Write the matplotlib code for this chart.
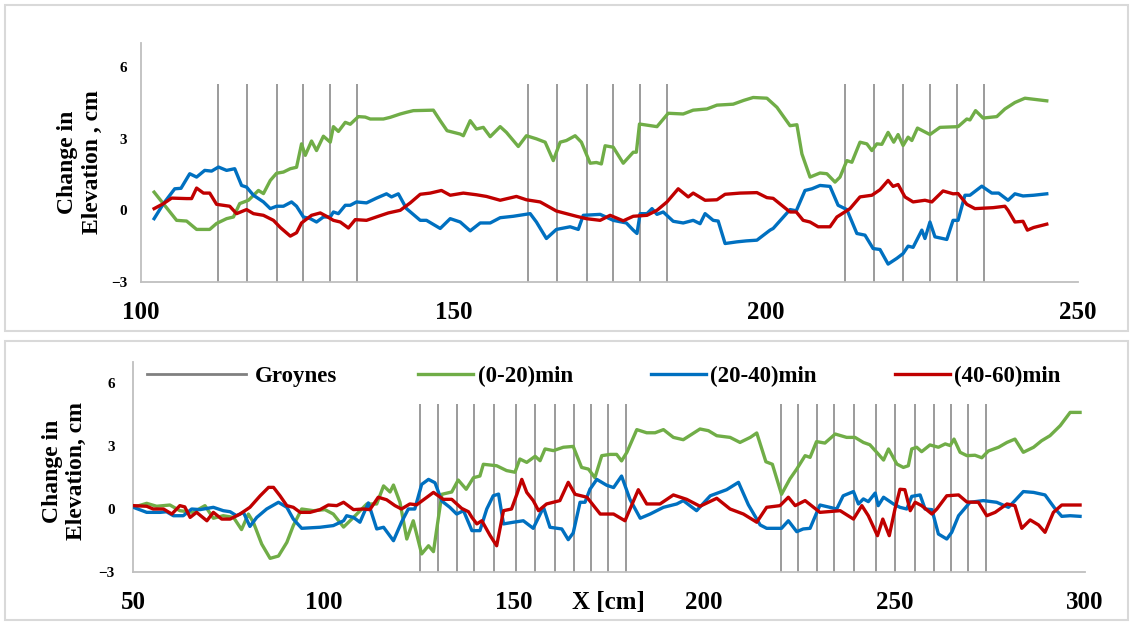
import matplotlib
matplotlib.use("Agg")
import matplotlib.pyplot as plt
from matplotlib.patches import Rectangle
from matplotlib.lines import Line2D

plt.rcParams['font.family'] = ['Liberation Serif', 'DejaVu Serif']
plt.rcParams['font.weight'] = 'bold'

GREEN = '#70AD47'
BLUE = '#0070C0'
RED = '#C00000'
GREY = '#808080'

# ---- top panel data (x [cm], change in elevation [cm]) ----
top_green = [(102.1, 0.76), (105.7, -0.42), (107.3, -0.45), (108.9, -0.8), (111.0, -0.8), (112.1, -0.55),
             (113.7, -0.35), (114.8, -0.28), (115.8, 0.28), (117.2, 0.42), (118.8, 0.83), (119.6, 0.7),
             (120.7, 1.25), (121.7, 1.55), (122.8, 1.6), (123.9, 1.74), (124.9, 1.8), (125.7, 2.78),
             (126.3, 2.3), (127.3, 2.9), (128.1, 2.5), (129.2, 3.1), (130.3, 2.85), (130.8, 3.5),
             (131.6, 3.3), (132.7, 3.68), (133.5, 3.6), (134.8, 3.92), (135.9, 3.9), (136.7, 3.82),
             (138.8, 3.82), (139.9, 3.89), (141.5, 4.03), (142.5, 4.1), (143.6, 4.17), (146.8, 4.19),
             (147.9, 3.75), (149.0, 3.33), (151.1, 3.19), (151.6, 3.12), (152.7, 3.75), (153.7, 3.4),
             (154.8, 3.47), (155.9, 3.08), (157.5, 3.5), (158.5, 3.26), (160.4, 2.67), (161.7, 3.12),
             (163.3, 2.99), (164.7, 2.85), (166.0, 2.08), (167.1, 2.85), (168.1, 2.92), (169.5, 3.12),
             (170.5, 2.85), (171.9, 1.97), (172.9, 2.0), (173.7, 1.94), (174.3, 2.7), (175.6, 2.64),
             (177.2, 1.97), (178.8, 2.43), (179.3, 2.43), (179.8, 3.61), (182.6, 3.5), (184.4, 4.06),
             (186.8, 4.03), (188.4, 4.19), (190.6, 4.24), (192.2, 4.4), (194.8, 4.44), (196.5, 4.6),
             (198.0, 4.72), (200.2, 4.69), (201.8, 4.31), (203.9, 3.54), (205.0, 3.58), (205.8, 2.36),
             (207.1, 1.39), (208.7, 1.56), (209.8, 1.53), (211.1, 1.18), (211.9, 1.39), (213.0, 2.08),
             (213.8, 2.01), (215.1, 2.85), (216.2, 2.78), (217.0, 2.5), (217.8, 2.78), (218.6, 2.76),
             (219.6, 3.26), (220.5, 2.85), (221.2, 3.17), (222.0, 2.71), (222.8, 3.06), (223.4, 2.92),
             (224.3, 3.44), (226.3, 3.17), (227.9, 3.47), (230.8, 3.5), (232.2, 3.82), (232.7, 3.78),
             (233.6, 4.17), (234.8, 3.86), (237.0, 3.92), (238.3, 4.24), (239.9, 4.51), (241.5, 4.69),
             (245.0, 4.58)]

top_blue = [(102.1, -0.35), (103.6, 0.28), (105.4, 0.9), (106.4, 0.92), (107.8, 1.53), (108.9, 1.39),
            (110.2, 1.67), (111.3, 1.64), (112.4, 1.81), (113.7, 1.67), (115.0, 1.74), (116.1, 1.04),
            (116.9, 0.97), (118.0, 0.63), (119.6, 0.35), (120.7, 0.07), (121.7, 0.17), (122.8, 0.17),
            (124.1, 0.35), (124.9, 0.17), (126.0, -0.28), (127.1, -0.35), (128.1, -0.49), (129.2, -0.28),
            (130.3, -0.28), (130.8, -0.07), (131.6, -0.14), (132.7, 0.21), (133.5, 0.21), (134.5, 0.35),
            (136.1, 0.31), (137.7, 0.51), (139.3, 0.69), (140.1, 0.56), (141.2, 0.69), (142.5, 0.07),
            (144.7, -0.42), (145.7, -0.42), (147.9, -0.76), (149.5, -0.35), (151.1, -0.49), (152.7, -0.86),
            (154.3, -0.53), (155.9, -0.53), (157.5, -0.31), (159.6, -0.25), (162.3, -0.14), (163.3, -0.49),
            (164.9, -1.18), (166.5, -0.8), (168.7, -0.69), (170.0, -0.8), (170.8, -0.21), (173.5, -0.17),
            (175.6, -0.42), (177.7, -0.53), (178.8, -0.83), (179.4, -0.97), (179.9, -0.14), (181.0, -0.14),
            (181.8, 0.07), (182.6, -0.17), (183.6, -0.07), (185.2, -0.46), (186.8, -0.53), (188.4, -0.42),
            (189.5, -0.56), (190.3, -0.14), (191.6, -0.42), (192.4, -0.45), (193.5, -1.39), (195.4, -1.32),
            (196.9, -1.28), (198.6, -1.25), (200.7, -0.83), (201.2, -0.76), (203.9, 0.03), (204.9, -0.02),
            (206.3, 0.83), (207.4, 0.9), (208.7, 1.04), (210.3, 1.0), (211.6, 0.21), (213.0, 0.03),
            (214.6, -0.97), (215.9, -1.04), (217.2, -1.6), (218.3, -1.64), (219.6, -2.25), (221.0, -2.01),
            (222.0, -1.81), (222.8, -1.5), (223.6, -1.55), (225.0, -0.83), (225.5, -1.18), (226.3, -0.49),
            (227.1, -1.11), (229.0, -1.22), (230.0, -0.42), (230.8, -0.42), (231.9, 0.63), (232.7, 0.63),
            (234.6, 1.01), (236.2, 0.72), (237.3, 0.72), (238.8, 0.42), (239.9, 0.69), (241.2, 0.6),
            (242.9, 0.63), (245.0, 0.69)]

top_red = [(102.1, 0.07), (103.6, 0.28), (104.9, 0.51), (107.3, 0.49), (108.1, 0.49), (108.9, 0.93),
           (110.0, 0.72), (111.0, 0.72), (112.1, 0.25), (114.2, 0.17), (115.3, -0.14), (116.9, 0.03),
           (118.0, -0.14), (119.6, -0.21), (121.2, -0.42), (122.3, -0.72), (123.9, -1.08), (124.9, -0.94),
           (125.7, -0.53), (127.3, -0.21), (128.7, -0.11), (129.7, -0.25), (130.8, -0.42), (131.9, -0.49),
           (133.2, -0.74), (134.3, -0.39), (136.1, -0.42), (138.0, -0.25), (139.6, -0.11), (141.5, 0.0),
           (143.1, 0.31), (144.7, 0.67), (146.3, 0.72), (148.1, 0.83), (149.5, 0.63), (151.6, 0.72),
           (153.7, 0.65), (155.3, 0.58), (157.5, 0.42), (160.1, 0.58), (161.7, 0.44), (163.9, 0.35),
           (166.5, -0.03), (168.1, -0.14), (169.7, -0.25), (171.3, -0.35), (173.5, -0.42), (175.1, -0.21),
           (177.2, -0.44), (178.8, -0.25), (181.0, -0.21), (182.6, 0.0), (184.2, 0.35), (186.0, 0.9),
           (187.6, 0.56), (188.4, 0.72), (190.3, 0.42), (192.2, 0.44), (193.5, 0.67), (195.9, 0.72),
           (198.6, 0.74), (200.2, 0.53), (201.2, 0.5), (203.9, -0.07), (204.9, -0.07), (206.0, -0.42),
           (207.1, -0.49), (208.4, -0.69), (210.3, -0.69), (211.4, -0.28), (213.5, 0.07), (215.1, 0.56),
           (217.0, 0.63), (218.3, 0.86), (219.6, 1.25), (220.4, 1.0), (221.2, 1.08), (222.3, 0.56),
           (223.6, 0.35), (225.5, 0.42), (226.6, 0.35), (228.4, 0.81), (230.0, 0.69), (230.8, 0.7),
           (232.2, 0.25), (233.5, 0.07), (236.4, 0.11), (238.3, 0.17), (238.8, 0.0), (239.9, -0.49),
           (241.2, -0.46), (241.9, -0.83), (242.9, -0.72), (245.0, -0.58)]

top_groynes = [112.3, 117.0, 121.8, 125.9, 130.3, 134.6,
               162.0, 166.6, 171.4, 175.6, 179.9, 184.2,
               212.7, 217.3, 222.0, 226.3, 230.6, 234.9]

# ---- bottom panel data ----
bot_green = [(50.1, 0.08), (53.6, 0.27), (56.2, 0.13), (59.7, 0.19), (62.3, -0.08), (65.8, -0.16),
             (68.9, 0.16), (71.1, -0.44), (73.7, -0.32), (76.4, -0.4), (78.5, -0.98), (80.3, -0.24),
             (81.6, -0.63), (83.8, -1.67), (86.0, -2.35), (88.2, -2.24), (90.4, -1.59), (92.1, -0.79),
             (94.3, 0.0), (97.4, -0.08), (100.4, -0.03), (102.6, -0.24), (105.3, -0.86), (107.9, -0.4),
             (111.4, 0.24), (114.0, 0.24), (115.8, 1.1), (117.5, 0.81), (118.4, 1.14), (120.1, 0.32),
             (121.9, -1.43), (123.6, -0.56), (125.8, -2.14), (127.6, -1.75), (128.9, -2.03), (131.1, 0.7),
             (133.7, 0.81), (135.4, 1.38), (137.5, 0.94), (139.4, 1.49), (141.1, 1.57), (142.0, 2.13),
             (145.5, 2.06), (148.1, 1.83), (150.3, 1.75), (151.6, 2.38), (153.4, 2.22), (155.6, 2.51),
             (156.9, 2.3), (158.2, 2.86), (160.4, 2.78), (163.0, 2.94), (165.6, 2.98), (167.8, 1.98),
             (169.6, 1.9), (171.3, 1.49), (173.1, 2.54), (175.3, 2.6), (177.0, 2.6), (178.3, 2.29),
             (179.7, 2.7), (182.3, 3.78), (184.9, 3.63), (187.1, 3.63), (189.3, 3.78), (191.9, 3.41),
             (194.5, 3.3), (198.9, 3.81), (201.1, 3.73), (203.3, 3.49), (206.8, 3.41), (209.4, 3.17),
             (212.1, 3.41), (213.8, 3.62), (216.2, 2.25), (217.9, 2.13), (220.3, 0.7), (222.5, 1.43),
             (224.3, 1.9), (226.5, 2.54), (227.8, 2.46), (229.5, 3.21), (231.7, 3.14), (234.4, 3.57),
             (237.4, 3.41), (239.6, 3.41), (241.8, 3.17), (243.5, 3.06), (245.3, 2.7), (247.1, 2.33),
             (248.4, 2.86), (250.6, 2.14), (252.3, 1.98), (253.6, 2.06), (254.5, 2.86), (255.8, 2.94),
             (257.1, 2.73), (259.3, 3.05), (261.5, 2.94), (263.3, 3.1), (264.6, 3.02), (265.6, 3.33),
             (267.2, 2.7), (269.0, 2.54), (271.1, 2.56), (272.9, 2.44), (274.6, 2.76), (277.3, 2.94),
             (279.5, 3.17), (281.6, 3.33), (283.8, 2.7), (286.5, 2.94), (288.6, 3.25), (290.8, 3.49),
             (293.5, 3.97), (296.1, 4.6), (298.7, 4.6)]

bot_blue = [(50.1, 0.08), (53.6, -0.16), (57.1, -0.16), (58.8, -0.13), (60.6, -0.32), (63.2, -0.32),
            (65.4, 0.0), (67.6, -0.03), (71.1, 0.08), (73.7, -0.08), (75.5, -0.13), (77.2, -0.32),
            (79.0, -0.16), (80.7, -0.83), (82.5, -0.4), (85.1, 0.0), (88.2, 0.32), (90.4, 0.08),
            (92.1, -0.48), (94.3, -0.92), (99.1, -0.87), (102.6, -0.79), (105.3, -0.56), (106.1, -0.32),
            (107.9, -0.4), (109.6, -0.63), (111.8, 0.29), (114.0, -0.95), (115.8, -0.87), (118.4, -1.51),
            (120.5, -0.63), (122.3, 0.0), (124.0, 0.0), (125.8, 1.17), (127.6, 1.41), (129.3, 1.25),
            (131.1, 0.38), (133.2, 0.08), (135.0, -0.24), (136.8, -0.08), (139.0, -1.03), (141.1, -1.03),
            (142.9, 0.0), (144.6, 0.63), (146.0, 0.71), (147.3, -0.71), (149.9, -0.63), (152.5, -0.56),
            (155.1, -0.92), (157.8, 0.08), (159.5, -0.87), (162.6, -0.95), (164.3, -1.46), (165.6, -1.14),
            (167.4, 0.32), (168.7, 0.32), (170.0, 0.94), (171.8, 1.41), (174.4, 1.13), (176.2, 1.02),
            (178.3, 1.57), (180.5, 0.46), (183.2, -0.44), (185.8, -0.24), (189.3, 0.08), (192.8, 0.24),
            (194.5, 0.4), (198.0, -0.08), (201.6, 0.63), (205.9, 0.92), (209.0, 1.27), (211.6, 0.2),
            (214.7, -0.76), (216.4, -0.92), (220.3, -0.92), (222.1, -0.56), (224.3, -1.08), (226.0, -0.95),
            (227.8, -0.92), (230.4, 0.19), (233.0, 0.08), (234.8, 0.0), (236.5, 0.63), (239.2, 0.83),
            (240.5, 0.24), (241.8, 0.48), (243.1, 0.35), (244.9, 0.76), (245.7, 0.16), (247.1, 0.56),
            (249.7, 0.24), (251.4, 0.08), (253.2, 0.0), (254.5, 0.6), (256.7, 0.67), (258.0, 0.0),
            (259.8, -0.03), (261.5, -1.19), (263.7, -1.43), (265.0, -1.11), (266.8, -0.32), (269.8, 0.32),
            (273.3, 0.4), (276.8, 0.32), (279.9, 0.08), (281.6, 0.4), (283.8, 0.83), (286.5, 0.79),
            (289.5, 0.67), (292.2, 0.0), (293.9, -0.35), (296.1, -0.32), (298.7, -0.35)]

bot_red = [(50.1, 0.16), (53.6, 0.13), (55.3, 0.0), (58.0, 0.0), (60.2, -0.24), (62.3, 0.16),
           (63.6, 0.1), (65.0, -0.4), (66.7, -0.16), (69.4, -0.56), (71.1, -0.16), (73.3, -0.48),
           (75.5, -0.48), (78.1, -0.24), (80.7, 0.08), (83.4, 0.63), (85.6, 1.03), (86.9, 1.03),
           (88.6, 0.63), (90.4, 0.16), (92.1, 0.08), (93.9, -0.16), (96.5, -0.16), (99.1, -0.03),
           (101.3, 0.19), (103.5, 0.16), (105.3, 0.32), (107.9, -0.03), (110.5, 0.0), (112.2, -0.03),
           (114.4, 0.56), (116.6, 0.44), (118.8, 0.16), (120.5, 0.0), (122.7, 0.24), (124.5, 0.2),
           (128.9, 0.79), (131.5, 0.46), (133.7, 0.46), (136.3, 0.03), (138.1, -0.13), (139.0, -0.4),
           (140.3, -0.71), (141.6, -0.56), (143.8, -1.27), (145.5, -1.75), (147.3, -0.08), (149.4, 0.0),
           (150.8, 0.7), (152.1, 1.41), (153.4, 0.79), (155.1, 0.4), (156.5, -0.08), (158.6, 0.24),
           (162.1, 0.4), (164.3, 1.27), (166.1, 0.7), (169.2, 0.56), (172.7, -0.24), (176.2, -0.24),
           (179.2, -0.56), (182.7, 0.92), (184.9, 0.24), (188.4, 0.24), (191.9, 0.67), (195.4, 0.46),
           (198.9, 0.13), (203.3, 0.51), (206.8, 0.0), (210.3, -0.24), (213.8, -0.63), (216.4, 0.08),
           (219.9, 0.16), (222.1, 0.56), (223.9, 0.16), (226.5, 0.4), (230.4, -0.16), (235.7, -0.08),
           (239.2, -0.48), (241.4, 0.16), (243.1, -0.32), (245.5, -1.27), (246.9, -0.48), (248.6, -1.27),
           (250.1, 0.0), (251.4, 0.94), (252.7, 0.92), (254.1, -0.08), (255.4, 0.32), (257.1, 0.16),
           (259.8, -0.24), (261.1, 0.0), (263.7, 0.63), (266.8, 0.67), (269.0, 0.33), (272.0, 0.32),
           (274.2, -0.32), (276.4, -0.16), (279.5, 0.24), (281.6, 0.16), (283.4, -0.92), (285.6, -0.52),
           (287.8, -0.76), (289.5, -1.11), (291.7, -0.16), (293.9, 0.19), (296.1, 0.19), (298.7, 0.19)]

bot_groynes = [125.4, 130.1, 135.2, 139.6, 144.9, 150.5, 155.6, 160.7, 165.8, 170.4, 174.8, 179.4,
               220.1, 224.7, 229.7, 234.2, 239.4, 245.0, 250.1, 255.3, 260.3, 264.9, 269.4, 273.9]

y_ticks = [-3, 0, 3, 6]

W, H = 1134, 623
fig = plt.figure(figsize=(W / 100, H / 100), dpi=100)

# panel frames
for (x0, y0, x1, y1) in [(5, 5, 1128, 331), (5, 341, 1128, 620)]:
    fig.add_artist(Rectangle((x0 / W, 1 - y1 / H), (x1 - x0) / W, (y1 - y0) / H,
                             transform=fig.transFigure, fill=False, ec='#D9D9D9', lw=1.5))

ax1 = fig.add_axes([141 / W, 1 - 282 / H, (1078 - 141) / W, (282 - 43) / H])
ax2 = fig.add_axes([133 / W, 1 - 572 / H, (1085 - 133) / W, (572 - 362) / H])


def draw(ax, series, groynes, gtop, xlim, xticks, ylabel):
    ax.vlines(groynes, -3, gtop, color=GREY, lw=1.1, zorder=1)
    for data, c in series:
        xs, ys = zip(*data)
        ax.plot(xs, ys, color=c, lw=2.4, solid_joinstyle='round', zorder=3)
    ax.set_xlim(*xlim)
    ax.set_ylim(-3, 7)
    ax.set_xticks(xticks)
    ax.set_yticks(y_ticks)
    ax.tick_params(axis='x', length=0, pad=14, labelsize=18)
    ax.tick_params(axis='y', length=0, pad=10, labelsize=11)
    for s in ['top', 'right']:
        ax.spines[s].set_visible(False)
    for s in ['left', 'bottom']:
        ax.spines[s].set_color('#BFBFBF')
        ax.spines[s].set_linewidth(1.3)
    ax.set_ylabel(ylabel, fontsize=17, fontweight='bold', linespacing=1.2)
    ax.set_facecolor('none')


draw(ax1, [(top_green, GREEN), (top_blue, BLUE), (top_red, RED)], top_groynes, 5.3,
     (100, 250), [100, 150, 200, 250], 'Change in\nElevation , cm')
ax1.yaxis.set_label_coords(-0.041, 0.5)

draw(ax2, [(bot_green, GREEN), (bot_blue, BLUE), (bot_red, RED)], bot_groynes, 5.0,
     (50, 300), [50, 100, 150, 200, 250, 300], 'Change in\nElevation, cm')
ax2.yaxis.set_label_coords(-0.048, 0.48)
ax2.tick_params(axis='y', pad=13)
ax2.text(0.499, -0.143, 'X [cm]', transform=ax2.transAxes, ha='center', va='center',
         fontsize=18, fontweight='bold')

# legends
leg1 = ax2.legend([Line2D([], [], color=GREY, lw=2)], ['Groynes'],
                  loc='center left', bbox_to_anchor=((147 - 133) / 952, (572 - 376) / 210),
                  frameon=False, borderpad=0, borderaxespad=0, handlelength=4.3,
                  handletextpad=0.4, prop={'size': 16.5, 'weight': 'bold'})
ax2.add_artist(leg1)
ax2.legend([Line2D([], [], color=c, lw=2.4) for c in (GREEN, BLUE, RED)],
           ['(0-20)min', '(20-40)min', '(40-60)min'], ncol=3,
           loc='center left', bbox_to_anchor=((418 - 133) / 952, (572 - 376) / 210),
           frameon=False, borderpad=0, borderaxespad=0, handlelength=2.4,
           handletextpad=0.2, columnspacing=3.4, prop={'size': 16.5, 'weight': 'bold'})

fig.savefig('out.png', dpi=100)
